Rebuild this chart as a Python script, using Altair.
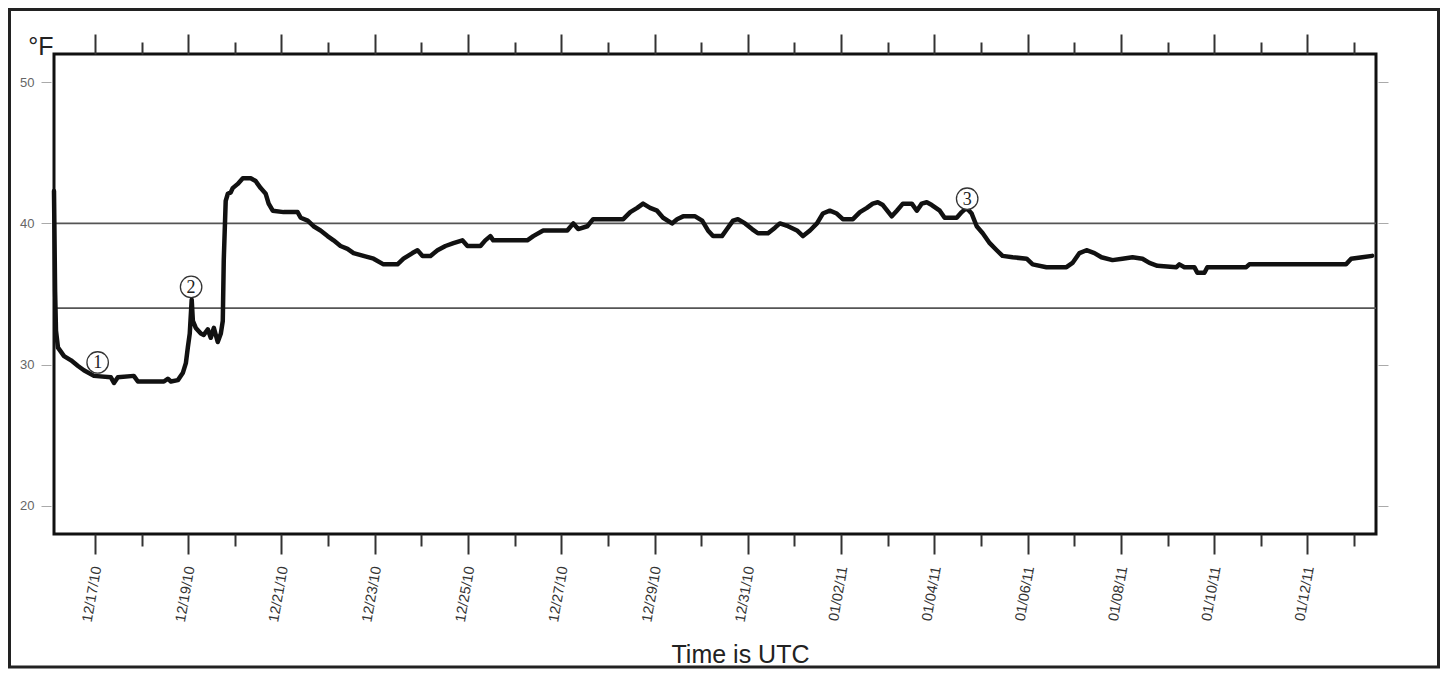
import altair as alt
import pandas as pd

# ---- data ----
# hours since 2010-12-16 00:00 UTC
hours = [2.93, 3.5, 3.96, 5.0, 8.1, 11.7, 15.3, 18.3, 23.5, 32.2,
         33.8, 35.8, 44.0, 46.1, 59.5, 61.5, 63.1, 66.7, 69.2, 70.8,
         71.8, 72.8, 73.8, 74.4, 75.9, 78.5, 80.0, 82.1, 83.6, 85.2,
         87.2, 88.8, 89.8, 90.3, 91.3, 92.4, 93.9, 94.9, 97.5, 100.1,
         102.6, 104.2, 106.7, 109.3, 111.9, 113.4, 115.5, 121.1, 128.3, 129.9,
         133.5, 136.5, 140.1, 143.7, 146.8, 150.4, 154.0, 157.1, 162.2, 167.4,
         172.5, 179.7, 182.8, 187.4, 190.0, 192.6, 196.7, 200.3, 204.4, 208.5,
         213.1, 215.7, 222.4, 224.9, 227.5, 229.0, 246.5, 249.6, 254.7, 267.1,
         270.2, 272.7, 277.4, 280.4, 295.9, 299.5, 303.1, 306.1, 309.7, 313.3,
         316.4, 321.0, 323.6, 326.7, 332.9, 336.5, 339.5, 342.1, 346.7, 349.3,
         352.4, 354.9, 358.6, 362.2, 365.2, 370.4, 374.0, 376.5, 380.7, 385.3,
         388.4, 392.0, 395.6, 398.6, 402.2, 405.8, 408.9, 414.1, 417.7, 421.3,
         424.3, 426.9, 429.5, 434.1, 436.7, 439.8, 444.4, 447.0, 449.5, 452.1,
         454.7, 458.8, 461.3, 467.5, 470.1, 472.6, 475.2, 477.8, 480.9, 484.5,
         488.1, 491.1, 496.3, 503.5, 506.6, 513.7, 524.0, 527.1, 530.7, 534.3,
         538.4, 542.0, 547.7, 552.8, 558.0, 563.1, 566.7, 570.8, 580.6, 582.1,
         584.7, 589.8, 591.4, 595.0, 596.5, 616.5, 618.1, 667.9, 670.5, 676.2,
         681.3]
temps = [42.3, 35.2, 32.4, 31.2, 30.6, 30.3, 29.9, 29.6, 29.2, 29.1,
         28.7, 29.1, 29.2, 28.8, 28.8, 29.0, 28.8, 28.9, 29.4, 30.1,
         31.2, 32.2, 34.6, 33.1, 32.6, 32.2, 32.1, 32.5, 31.9, 32.6,
         31.6, 32.2, 33.1, 37.4, 41.6, 42.1, 42.2, 42.5, 42.8, 43.2,
         43.2, 43.2, 43.0, 42.5, 42.1, 41.4, 40.9, 40.8, 40.8, 40.4,
         40.2, 39.8, 39.5, 39.1, 38.8, 38.4, 38.2, 37.9, 37.7, 37.5,
         37.1, 37.1, 37.5, 37.9, 38.1, 37.7, 37.7, 38.1, 38.4, 38.6,
         38.8, 38.4, 38.4, 38.8, 39.1, 38.8, 38.8, 39.1, 39.5, 39.5,
         40.0, 39.6, 39.8, 40.3, 40.3, 40.8, 41.1, 41.4, 41.1, 40.9,
         40.4, 40.0, 40.3, 40.5, 40.5, 40.2, 39.5, 39.1, 39.1, 39.6,
         40.2, 40.3, 40.0, 39.6, 39.3, 39.3, 39.7, 40.0, 39.8, 39.5,
         39.1, 39.5, 40.0, 40.7, 40.9, 40.7, 40.3, 40.3, 40.8, 41.1,
         41.4, 41.5, 41.3, 40.5, 40.9, 41.4, 41.4, 40.9, 41.4, 41.5,
         41.3, 40.9, 40.4, 40.4, 40.8, 41.1, 40.7, 39.8, 39.3, 38.6,
         38.1, 37.7, 37.6, 37.5, 37.1, 36.9, 36.9, 37.2, 37.9, 38.1,
         37.9, 37.6, 37.4, 37.5, 37.6, 37.5, 37.2, 37.0, 36.9, 37.1,
         36.9, 36.9, 36.5, 36.5, 36.9, 36.9, 37.1, 37.1, 37.5, 37.6,
         37.7]
ref_levels = [40, 34]
note_labels = ["1", "2", "3"]
note_hours = [25.4, 73.5, 472.9]
note_temps = [30.15, 35.5, 41.75]
y_ticks = [20, 30, 40, 50]

base = pd.Timestamp("2010-12-16T00:00:00")


def iso(h):
    return (base + pd.Timedelta(hours=h)).strftime("%Y-%m-%dT%H:%M:%SZ")


df = pd.DataFrame({"t": [iso(h) for h in hours], "temp": temps})
notes = pd.DataFrame({"t": [iso(h) for h in note_hours], "temp": note_temps,
                      "label": note_labels})
refs = pd.DataFrame({"level": ref_levels})
frame_df = pd.DataFrame({"k": [0]})

W, H = 1322, 480

days = pd.date_range("2010-12-17", "2011-01-13", freq="D")
tick_days = [alt.DateTime(year=d.year, month=d.month, date=d.day, utc=True) for d in days]
x_domain = [alt.DateTime(year=2010, month=12, date=16, hours=2, minutes=56, utc=True),
            alt.DateTime(year=2011, month=1, date=13, hours=11, minutes=18, utc=True)]
x_scale = alt.Scale(type="utc", domain=x_domain, nice=False)
y_scale = alt.Scale(domain=[18, 52], nice=False, zero=False)

is_major = "round((datum.value - utc(2010, 11, 17)) / 86400000) % 2 == 0"
tick_size = {"condition": {"test": is_major, "value": 20}, "value": 12}

bottom_axis = alt.Axis(
    values=tick_days,
    labelExpr=f"({is_major}) ? utcFormat(datum.value, '%m/%d/%y') : ''",
    labelAngle=280, labelAlign="right", labelBaseline="middle",
    labelPadding=12, labelOffset=2, labelFont="Liberation Sans",
    labelFontSize=14.5, labelColor="#333", labelOverlap=False, labelFlush=False,
    labelBound=False,
    tickSize=tick_size, tickWidth=2, tickColor="#333",
    domain=False, grid=False,
    title="Time is UTC", titleX=686, titleY=128, titleAlign="center",
    titleBaseline="alphabetic", titleFontSize=25, titleFontWeight="normal",
    titleFont="Liberation Sans", titleColor="#222",
)
top_axis = alt.Axis(orient="top", values=tick_days, labels=False,
                    tickSize=tick_size, tickWidth=2, tickColor="#333",
                    domain=False, grid=False, title=None)
left_axis = alt.Axis(
    values=y_ticks, tickSize=10, offset=3, tickColor="#aaa", tickWidth=1,
    labelPadding=7, labelFontSize=13, labelColor="#666",
    labelFont="Liberation Sans", domain=False, grid=False,
    title="°F", titleAngle=0, titleX=2, titleY=0, titleAlign="right",
    titleBaseline="alphabetic", titleFontSize=25, titleFontWeight="normal",
    titleFont="Liberation Sans", titleColor="#222",
)
right_axis = alt.Axis(orient="right", values=y_ticks, labels=False, tickSize=10,
                      offset=2, tickColor="#aaa", tickWidth=1, domain=False,
                      grid=False, title=None)

frame = alt.Chart(frame_df).mark_rect(
    fillOpacity=0, stroke="#222", strokeWidth=3, clip=False
).encode(
    x=alt.value(-44.5), x2=alt.value(1384.5),
    y=alt.value(-44.5), y2=alt.value(613),
)

rules = alt.Chart(refs).mark_rule(color="#555", strokeWidth=1.6).encode(
    y=alt.Y("level:Q", scale=y_scale, axis=right_axis),
)

line = alt.Chart(df).mark_line(
    color="#111", strokeWidth=4.5, strokeJoin="round", strokeCap="round"
).encode(
    x=alt.X("t:T", scale=x_scale, axis=bottom_axis),
    y=alt.Y("temp:Q", scale=y_scale, axis=left_axis),
)

circles = alt.Chart(notes).mark_point(
    shape="circle", size=460, filled=True, fill="white", stroke="#333",
    strokeWidth=1.3, opacity=1
).encode(
    x=alt.X("t:T", scale=x_scale, axis=top_axis),
    y=alt.Y("temp:Q", scale=y_scale, axis=None),
)

digits = alt.Chart(notes).mark_text(
    font="Liberation Serif", fontSize=18, color="#222", align="center",
    baseline="middle", dy=1
).encode(
    x=alt.X("t:T", scale=x_scale, axis=None),
    y=alt.Y("temp:Q", scale=y_scale, axis=None),
    text="label:N",
)

chart = alt.layer(frame, rules, line, circles, digits).resolve_axis(
    x="independent", y="independent"
).properties(
    width=W, height=H,
    padding={"left": 46, "top": 46, "right": 64, "bottom": 135},
    autosize=alt.AutoSizeParams(type="none"),
    background="white",
).configure_view(stroke="#111", strokeWidth=3)

chart.save("out.html", embed_options={"renderer": "svg", "actions": False})
